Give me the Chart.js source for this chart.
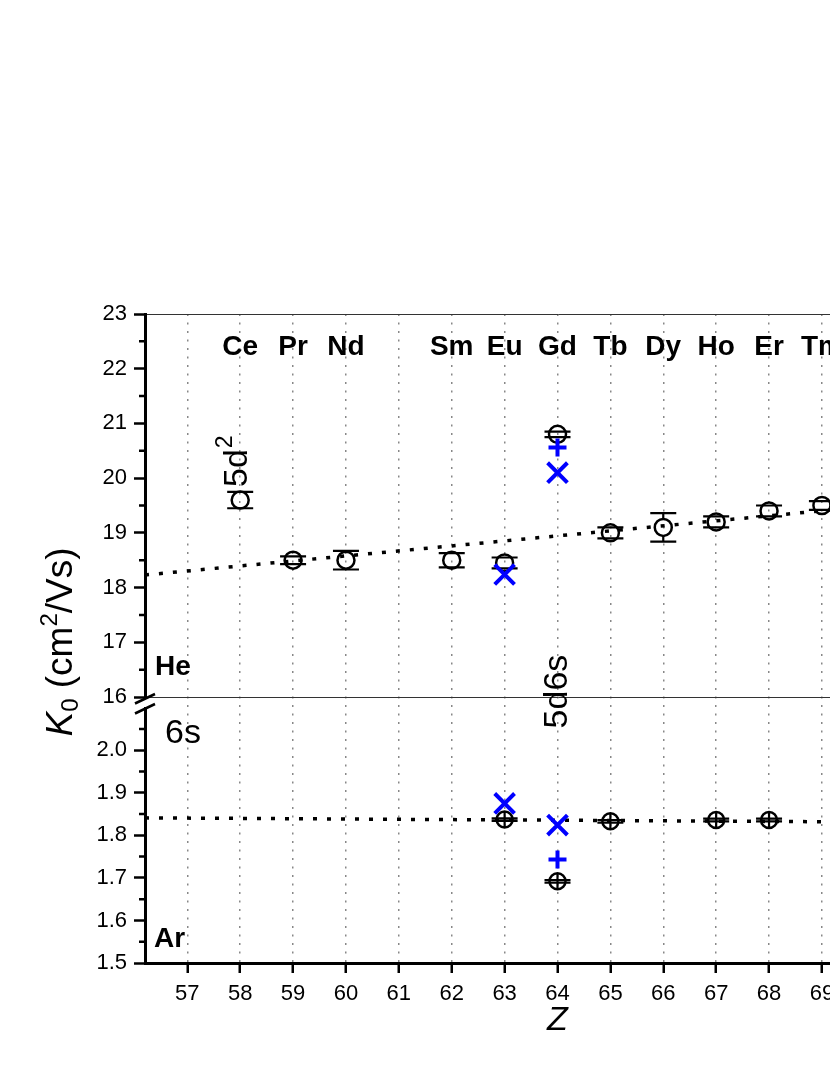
<!DOCTYPE html>
<html lang="en">
<head>
<meta charset="UTF-8">
<title>K0 vs Z</title>
<script src="https://cdn.jsdelivr.net/npm/chart.js"></script>
<style>
    html, body { margin: 0; padding: 0; overflow: hidden; background: #fff; }
    #grafico { position: absolute; left: 0; top: 0; }
</style>
</head>
<body>
<canvas id="grafico" width="1000" height="1075"></canvas>
<script>
    // rotulos dos elementos (topo do painel He)
    const elementos = ['Ce', 'Pr', 'Nd', 'Sm', 'Eu', 'Gd', 'Tb', 'Dy', 'Ho', 'Er', 'Tm'];
    const elementosZ = [58, 59, 60, 62, 63, 64, 65, 66, 67, 68, 69];

    // painel He
    const heZ = [58, 59, 60, 62, 63, 64, 65, 66, 67, 68, 69];
    const heK = [19.6, 18.5, 18.5, 18.5, 18.45, 20.8, 19.0, 19.1, 19.2, 19.4, 19.5];
    const heErro = [0.15, 0.07, 0.17, 0.13, 0.1, 0.05, 0.1, 0.26, 0.1, 0.1, 0.08];
    const heXZ = [63, 64];
    const heXK = [18.24, 20.1];
    const heMaisZ = [64];
    const heMaisK = [20.56];
    const heTendZ = [56.2, 71.8];
    const heTendK = [18.23, 19.66];

    // painel Ar
    const arZ = [63, 64, 65, 67, 68];
    const arK = [1.837, 1.692, 1.833, 1.836, 1.836];
    const arErro = [0.003, 0.003, 0.003, 0.003, 0.003];
    const arXZ = [63, 64];
    const arXK = [1.875, 1.824];
    const arMaisZ = [64];
    const arMaisK = [1.743];
    const arTendZ = [56.2, 71.8];
    const arTendK = [1.841, 1.830];

    // eixos
    const zTicks = [57, 58, 59, 60, 61, 62, 63, 64, 65, 66, 67, 68, 69, 70, 71];
    const heTicks = [16, 17, 18, 19, 20, 21, 22, 23];
    const heMenores = [16.5, 17.5, 18.5, 19.5, 20.5, 21.5, 22.5];
    const arTicks = [1.5, 1.6, 1.7, 1.8, 1.9, 2.0];
    const arMenores = [1.55, 1.65, 1.75, 1.85, 1.95, 2.05];

    const fonte = '"Liberation Sans", Arial, sans-serif';
    const azul = '#0000ff';

    function pontos(xs, ys) {
        return xs.map((x, i) => ({ x: x, y: ys[i] }));
    }

    const barrasErro = {
        id: 'barrasErro',
        beforeDatasetsDraw(chart) {
            const ctx = chart.ctx;
            const sx = chart.scales.x;
            ctx.save();
            ctx.strokeStyle = '#000';
            ctx.lineWidth = 2.2;
            const desenha = (zs, ks, es, sy, r, cruz) => {
                zs.forEach((z, i) => {
                    const cx = sx.getPixelForValue(z);
                    const yc = sy.getPixelForValue(ks[i]);
                    const yt = sy.getPixelForValue(ks[i] + es[i]);
                    const yb = sy.getPixelForValue(ks[i] - es[i]);
                    ctx.beginPath();
                    if (cruz) {
                        ctx.moveTo(cx, yc - r); ctx.lineTo(cx, yc + r);
                    }
                    if (yt < yc - r) {
                        ctx.moveTo(cx, yt); ctx.lineTo(cx, yc - r);
                        ctx.moveTo(cx, yb); ctx.lineTo(cx, yc + r);
                    }
                    ctx.moveTo(cx - 13, yt); ctx.lineTo(cx + 13, yt);
                    ctx.moveTo(cx - 13, yb); ctx.lineTo(cx + 13, yb);
                    ctx.stroke();
                });
            };
            desenha(heZ, heK, heErro, chart.scales.yHe, 8.5, false);
            desenha(arZ, arK, arErro, chart.scales.yAr, 8, true);
            ctx.restore();
        }
    };

    const extras = {
        id: 'extras',
        afterDraw(chart) {
            const ctx = chart.ctx;
            const area = chart.chartArea;
            const sx = chart.scales.x;
            const yHe = chart.scales.yHe;
            const yAr = chart.scales.yAr;
            ctx.save();

            // tracos menores nos eixos y
            ctx.strokeStyle = '#000';
            ctx.lineWidth = 2.5;
            ctx.beginPath();
            heMenores.forEach(v => {
                const y = yHe.getPixelForValue(v);
                ctx.moveTo(area.left - 6, y); ctx.lineTo(area.left, y);
            });
            arMenores.forEach(v => {
                const y = yAr.getPixelForValue(v);
                ctx.moveTo(area.left - 6, y); ctx.lineTo(area.left, y);
            });
            ctx.stroke();

            // quebra do eixo
            const yq = yHe.bottom;
            ctx.fillStyle = '#fff';
            ctx.fillRect(area.left - 4, yq + 2, 8, 8);
            ctx.lineWidth = 2.5;
            ctx.beginPath();
            ctx.moveTo(area.left - 10, yq + 6.5); ctx.lineTo(area.left + 10, yq - 3);
            ctx.moveTo(area.left - 10, yq + 16.5); ctx.lineTo(area.left + 10, yq + 7);
            ctx.stroke();

            ctx.fillStyle = '#000';
            // simbolos dos elementos
            ctx.font = 'bold 28px ' + fonte;
            ctx.textAlign = 'center';
            ctx.textBaseline = 'alphabetic';
            elementos.forEach((el, i) => {
                ctx.fillText(el, sx.getPixelForValue(elementosZ[i]), yHe.getPixelForValue(22.25));
            });

            // He / Ar
            ctx.textAlign = 'left';
            ctx.fillText('He', area.left + 10, yHe.getPixelForValue(16.4));
            ctx.fillText('Ar', area.left + 9, yAr.getPixelForValue(1.538));

            // 6s
            ctx.font = '34px ' + fonte;
            ctx.textBaseline = 'middle';
            ctx.fillText('6s', area.left + 20, yAr.getPixelForValue(2.039));

            // 5d2 (rotacionado)
            ctx.save();
            ctx.translate(sx.getPixelForValue(58) - 3, yHe.getPixelForValue(20.3));
            ctx.rotate(-Math.PI / 2);
            ctx.textBaseline = 'middle';
            ctx.font = '34px ' + fonte;
            const w5d = ctx.measureText('5d').width;
            ctx.font = '23px ' + fonte;
            const wSup = ctx.measureText('2').width;
            const x0 = -(w5d + wSup) / 2;
            ctx.font = '34px ' + fonte;
            ctx.fillText('5d', x0, 0);
            ctx.font = '23px ' + fonte;
            ctx.fillText('2', x0 + w5d + 1, -12);
            ctx.restore();

            // 5d6s (rotacionado)
            ctx.save();
            ctx.translate(sx.getPixelForValue(64), yHe.getPixelForValue(16.1));
            ctx.rotate(-Math.PI / 2);
            ctx.textAlign = 'center';
            ctx.textBaseline = 'middle';
            ctx.font = '34px ' + fonte;
            ctx.fillText('5d6s', 0, 0);
            ctx.restore();

            // titulo eixo x
            ctx.textAlign = 'center';
            ctx.textBaseline = 'middle';
            ctx.font = 'italic 34px ' + fonte;
            ctx.fillText('Z', (area.left + area.right) / 2, 1021);

            // titulo eixo y: K0 (cm2/Vs)
            ctx.save();
            ctx.translate(62, 642);
            ctx.rotate(-Math.PI / 2);
            ctx.textAlign = 'left';
            ctx.textBaseline = 'middle';
            const partes = [
                { t: 'K', f: 'italic 37px ' + fonte, dy: 0 },
                { t: '0', f: '24px ' + fonte, dy: 9 },
                { t: ' (cm', f: '37px ' + fonte, dy: 0 },
                { t: '2', f: '24px ' + fonte, dy: -12 },
                { t: '/Vs)', f: '37px ' + fonte, dy: 0 }
            ];
            let total = 0;
            partes.forEach(p => { ctx.font = p.f; p.w = ctx.measureText(p.t).width; total += p.w; });
            let xp = -total / 2;
            partes.forEach(p => { ctx.font = p.f; ctx.fillText(p.t, xp, p.dy); xp += p.w; });
            ctx.restore();

            ctx.restore();
        }
    };

    const ctx = document.getElementById('grafico').getContext('2d');
    new Chart(ctx, {
        type: 'scatter',
        data: {
            datasets: [
                { data: pontos(heXZ, heXK), yAxisID: 'yHe', pointStyle: 'crossRot', pointRadius: 14, borderColor: azul, borderWidth: 4 },
                { data: pontos(heMaisZ, heMaisK), yAxisID: 'yHe', pointStyle: 'cross', pointRadius: 9, borderColor: azul, borderWidth: 4 },
                { data: pontos(arXZ, arXK), yAxisID: 'yAr', pointStyle: 'crossRot', pointRadius: 14, borderColor: azul, borderWidth: 4 },
                { data: pontos(arMaisZ, arMaisK), yAxisID: 'yAr', pointStyle: 'cross', pointRadius: 9, borderColor: azul, borderWidth: 4 },
                { data: pontos(heZ, heK), yAxisID: 'yHe', pointStyle: 'circle', pointRadius: 8.5, borderColor: '#000', backgroundColor: 'rgba(0,0,0,0)', borderWidth: 2.5 },
                { data: pontos(arZ, arK), yAxisID: 'yAr', pointStyle: 'circle', pointRadius: 8, borderColor: '#000', backgroundColor: 'rgba(0,0,0,0)', borderWidth: 2.5 },
                { data: pontos(heTendZ, heTendK), yAxisID: 'yHe', showLine: true, pointRadius: 0, borderColor: '#000', borderWidth: 3.5, borderDash: [4, 10] },
                { data: pontos(arTendZ, arTendK), yAxisID: 'yAr', showLine: true, pointRadius: 0, borderColor: '#000', borderWidth: 3.5, borderDash: [4, 10] }
            ]
        },
        options: {
            responsive: false,
            animation: false,
            devicePixelRatio: 1,
            events: [],
            layout: { padding: { top: 314, left: 0, right: 30, bottom: 0 } },
            plugins: { legend: { display: false }, tooltip: { enabled: false } },
            scales: {
                x: {
                    type: 'linear',
                    min: 56.2,
                    max: 71.8,
                    afterBuildTicks: s => { s.ticks = zTicks.map(v => ({ value: v })); },
                    afterFit: s => { s.height = 112; },
                    ticks: { color: '#000', font: { family: fonte, size: 22 }, padding: 8 },
                    grid: { color: '#888', lineWidth: 1.5, tickColor: '#000', tickWidth: 2.5, tickLength: 10, tickBorderDash: [] },
                    border: { color: '#000', width: 3, dash: [2, 6.5] }
                },
                yAr: {
                    type: 'linear',
                    position: 'left',
                    stack: 'k0',
                    stackWeight: 266,
                    min: 1.5,
                    max: 2.125,
                    afterBuildTicks: s => { s.ticks = arTicks.map(v => ({ value: v })); },
                    afterFit: s => { s.width = 145; },
                    ticks: { color: '#000', font: { family: fonte, size: 22 }, padding: 7, callback: v => v.toFixed(1) },
                    grid: { drawOnChartArea: false, tickColor: '#000', tickWidth: 2.5, tickLength: 11 },
                    border: { color: '#000', width: 3 }
                },
                yHe: {
                    type: 'linear',
                    position: 'left',
                    stack: 'k0',
                    stackWeight: 383,
                    min: 16,
                    max: 23,
                    afterBuildTicks: s => { s.ticks = heTicks.map(v => ({ value: v })); },
                    afterFit: s => { s.width = 145; },
                    ticks: { color: '#000', font: { family: fonte, size: 22 }, padding: 7 },
                    grid: {
                        drawOnChartArea: true,
                        color: c => (c.tick && (c.tick.value === 16 || c.tick.value === 23)) ? '#333' : 'rgba(0,0,0,0)',
                        lineWidth: 1,
                        tickColor: '#000', tickWidth: 2.5, tickLength: 11
                    },
                    border: { color: '#000', width: 3 }
                }
            }
        },
        plugins: [barrasErro, extras]
    });
</script>
</body>
</html>
